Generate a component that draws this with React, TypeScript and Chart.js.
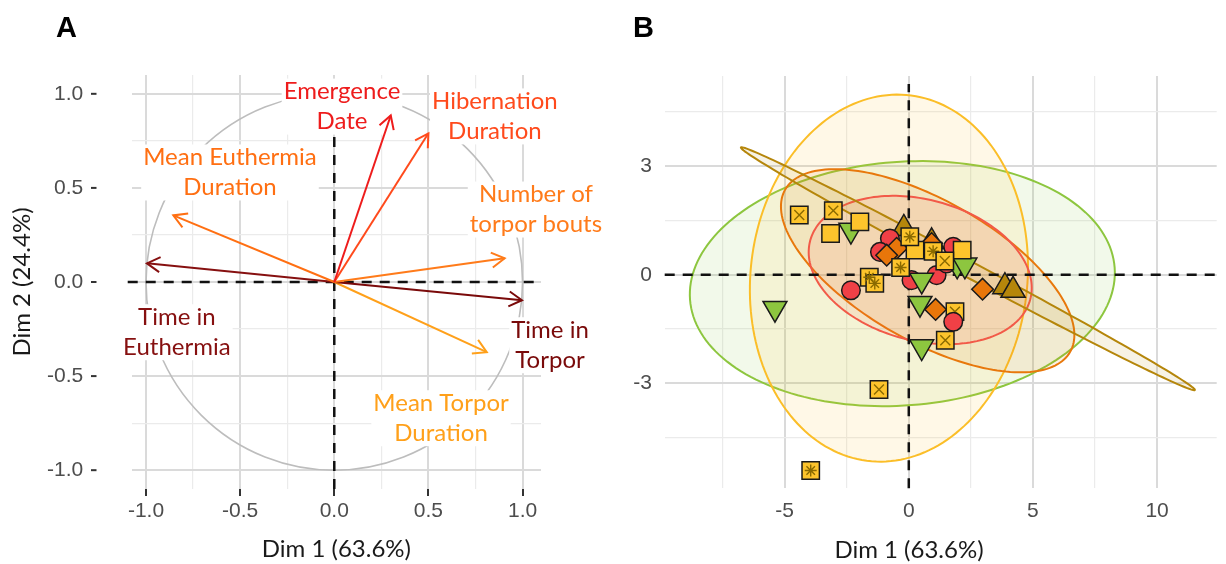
import React, { useEffect, useRef } from 'react';
import { Chart, registerables } from 'chart.js';
Chart.register(...registerables);

// ---------- Panel A: variable correlation circle ----------
const varLines: string[][] = [
  ['Emergence', 'Date'],
  ['Hibernation', 'Duration'],
  ['Number of', 'torpor bouts'],
  ['Time in', 'Torpor'],
  ['Mean Torpor', 'Duration'],
  ['Mean Euthermia', 'Duration'],
  ['Time in', 'Euthermia'],
];
const varX = [0.30, 0.50, 0.905, 0.997, 0.81, -0.855, -0.995];
const varY = [0.885, 0.79, 0.126, -0.097, -0.373, 0.354, 0.099];
const varColors = ['#EE1C1C', '#FF4A1C', '#FF7B1A', '#7A0A0A', '#FFA01A', '#FF6F12', '#861010'];
const labelX = [0.041, 0.853, 1.071, 1.146, 0.567, -0.554, -0.836];
const labelY = [0.932, 0.880, 0.385, -0.336, -0.724, 0.582, -0.267];

const aTicks = [-1, -0.75, -0.5, -0.25, 0, 0.25, 0.5, 0.75, 1];
const aTickLabels = ['-1.0', '', '-0.5', '', '0.0', '', '0.5', '', '1.0'];

// ---------- Panel B: individuals ----------
const bXTicks = [-7.5, -5, -2.5, 0, 2.5, 5, 7.5, 10];
const bXLabels = ['', '-5', '', '0', '', '5', '', '10'];
const bYTicks = [-4.5, -3, -1.5, 0, 1.5, 3, 4.5];
const bYLabels = ['', '-3', '', '0', '', '3', ''];

const redX = [-2.33, -0.76, -1.16, 1.79, 1.12, 0.11, 1.52, 1.79];
const redY = [-0.43, 1.0, 0.63, 0.77, -0.01, -0.15, 0.31, -1.30];
const orangeX = [-0.49, 0.92, -0.89, 2.97, 1.08];
const orangeY = [0.73, 0.86, 0.54, -0.40, -0.96];
const greenX = [-2.33, -5.39, 0.52, 0.45, 0.52, 1.95, 2.26];
const greenY = [1.23, -0.93, -0.15, -0.79, -1.99, 0.27, 0.27];
const goldX = [-0.20, 0.92, 3.87, 4.20];
const goldY = [1.28, 0.91, -0.33, -0.43];
const sqPlainX = [-3.15, -1.97, 0.25, 2.15];
const sqPlainY = [1.14, 1.46, 0.68, 0.68];
const sqCrossX = [-4.41, -3.04, 1.45, 1.47, 1.86, -1.20];
const sqCrossY = [1.65, 1.77, 0.38, -1.81, -1.02, -3.17];
const sqStarX = [-1.59, -1.37, -0.33, 0.04, 0.98, -3.95];
const sqStarY = [-0.07, -0.24, 0.20, 1.05, 0.65, -5.41];

// confidence ellipses: centre + two conjugate semi-diameters (data units)
const ellCX = [-0.26, -0.80, 0.76, 0.46, 2.38];
const ellCY = [-0.246, -0.094, 0.11, 0.13, 0.166];
const ellUX = [8.55, 5.60, 5.74, 4.43, 9.14];
const ellUY = [0.445, 0.387, -2.24, -0.815, -3.35];
const ellVX = [0.371, -0.08, -1.40, -0.74, -0.152];
const ellVY = [-3.356, 5.055, -1.69, -1.88, -0.195];
const ellColors = ['141,198,63', '251,190,40', '232,120,12', '242,90,72', '181,134,11'];

const RED = '#F04046';
const ORANGE = '#E8760A';
const YELLOW = '#FDC42C';
const GREEN = '#8DC63F';
const GOLD = '#B5860B';
const EDGE = '#1A1A1A';

const TICK_FONT = { family: '"Liberation Sans", Arial, sans-serif', size: 21 };
const TITLE_FAMILY = 'Lato, "Open Sans", sans-serif';
const TITLE_SIZE = 24;
const TICK_COLOR = '#4D4D4D';
const GRID_MAJOR = '#DADADA';
const GRID_MINOR = '#EBEBEB';

function grid(labels: string[], extra: any = {}) {
  return {
    color: (c: any) => (labels[c.index] ? GRID_MAJOR : GRID_MINOR),
    lineWidth: (c: any) => (labels[c.index] ? 2 : 1.2),
    ...extra,
  };
}

function drawPanelLetter(ctx: CanvasRenderingContext2D, t: string, x: number, y: number) {
  ctx.save();
  ctx.font = 'bold 29px "Liberation Sans", Arial, sans-serif';
  ctx.fillStyle = '#000';
  ctx.textAlign = 'center';
  ctx.textBaseline = 'middle';
  ctx.fillText(t, x, y);
  ctx.restore();
}

const aPlugin = {
  id: 'aDecor',
  beforeDatasetsDraw(chart: any) {
    const { ctx, chartArea: area } = chart;
    const xs = chart.scales.x, ys = chart.scales.y;
    const cx = xs.getPixelForValue(0), cy = ys.getPixelForValue(0);
    ctx.save();
    // unit circle
    ctx.beginPath();
    ctx.ellipse(cx, cy, xs.getPixelForValue(1) - cx, cy - ys.getPixelForValue(1), 0, 0, Math.PI * 2);
    ctx.strokeStyle = '#BDBDBD';
    ctx.lineWidth = 1.6;
    ctx.stroke();
    // dashed reference lines
    ctx.setLineDash([10, 8]);
    ctx.strokeStyle = '#111';
    ctx.lineWidth = 2.5;
    ctx.beginPath();
    ctx.moveTo(area.left - 4, cy);
    ctx.lineTo(area.right, cy);
    ctx.moveTo(cx, area.bottom);
    ctx.lineTo(cx, area.top);
    ctx.stroke();
    ctx.setLineDash([]);
    // labels with white boxes
    ctx.font = `${TITLE_SIZE}px ${TITLE_FAMILY}`;
    ctx.textAlign = 'center';
    ctx.textBaseline = 'middle';
    varLines.forEach((lines, i) => {
      const px = xs.getPixelForValue(labelX[i]);
      const py = ys.getPixelForValue(labelY[i]);
      const w = Math.max(...lines.map((l) => ctx.measureText(l).width));
      ctx.fillStyle = '#fff';
      ctx.fillRect(px - w / 2 - 2, py - 28, w + 4, 56);
      ctx.fillStyle = varColors[i];
      ctx.fillText(lines[0], px, py - 15);
      ctx.fillText(lines[1], px, py + 15);
    });
    ctx.restore();
  },
  afterDatasetsDraw(chart: any) {
    const { ctx } = chart;
    ctx.save();
    chart.data.datasets.forEach((ds: any, i: number) => {
      const meta = chart.getDatasetMeta(i);
      const p0 = meta.data[0], p1 = meta.data[1];
      const ang = Math.atan2(p1.y - p0.y, p1.x - p0.x);
      const L = 15, a = Math.PI / 6;
      ctx.beginPath();
      ctx.moveTo(p1.x - L * Math.cos(ang - a), p1.y - L * Math.sin(ang - a));
      ctx.lineTo(p1.x, p1.y);
      ctx.lineTo(p1.x - L * Math.cos(ang + a), p1.y - L * Math.sin(ang + a));
      ctx.strokeStyle = ds.borderColor;
      ctx.lineWidth = 2;
      ctx.lineJoin = 'miter';
      ctx.stroke();
    });
    // y-axis tick marks
    const ys = chart.scales.y;
    ctx.strokeStyle = '#333';
    ctx.lineWidth = 2;
    aTicks.forEach((v, i) => {
      if (!aTickLabels[i]) return;
      const y = ys.getPixelForValue(v);
      ctx.beginPath();
      ctx.moveTo(91, y);
      ctx.lineTo(96.5, y);
      ctx.stroke();
    });
    ctx.restore();
  },
  afterDraw(chart: any) {
    drawPanelLetter(chart.ctx, 'A', 66.5, 29);
  },
};

const bPlugin = {
  id: 'bDecor',
  beforeDatasetsDraw(chart: any) {
    const { ctx, chartArea: area } = chart;
    const xs = chart.scales.x, ys = chart.scales.y;
    ctx.save();
    ellCX.forEach((c, k) => {
      ctx.beginPath();
      for (let s = 0; s <= 180; s++) {
        const t = (s / 180) * Math.PI * 2;
        const dx = c + ellUX[k] * Math.cos(t) + ellVX[k] * Math.sin(t);
        const dy = ellCY[k] + ellUY[k] * Math.cos(t) + ellVY[k] * Math.sin(t);
        const px = xs.getPixelForValue(dx), py = ys.getPixelForValue(dy);
        if (s === 0) ctx.moveTo(px, py); else ctx.lineTo(px, py);
      }
      ctx.closePath();
      ctx.fillStyle = `rgba(${ellColors[k]},0.11)`;
      ctx.fill();
      ctx.strokeStyle = `rgb(${ellColors[k]})`;
      ctx.lineWidth = 2;
      ctx.stroke();
    });
    const cx = xs.getPixelForValue(0), cy = ys.getPixelForValue(0);
    ctx.setLineDash([10, 8]);
    ctx.strokeStyle = '#111';
    ctx.lineWidth = 2.5;
    ctx.beginPath();
    ctx.moveTo(area.left, cy);
    ctx.lineTo(area.right, cy);
    ctx.moveTo(cx, area.bottom);
    ctx.lineTo(cx, area.top + 8);
    ctx.stroke();
    ctx.restore();
  },
  afterDraw(chart: any) {
    const { ctx } = chart;
    drawPanelLetter(ctx, 'B', 33.5, 29);
    ctx.save();
    ctx.font = `${TITLE_SIZE}px ${TITLE_FAMILY}`;
    ctx.fillStyle = '#1A1A1A';
    ctx.textAlign = 'center';
    ctx.textBaseline = 'middle';
    ctx.fillText('Dim 1 (63.6%)', 299, 550);
    ctx.restore();
  },
};

const pts = (xs: number[], ys: number[]) => xs.map((x, i) => ({ x, y: ys[i] }));

function marker(data: any[], style: string, r: number, bg: string, extra: any = {}) {
  return {
    data,
    pointStyle: style,
    pointRadius: r,
    pointHoverRadius: r,
    pointBackgroundColor: bg,
    pointBorderColor: EDGE,
    pointBorderWidth: 1.5,
    showLine: false,
    ...extra,
  };
}

function makeA(): any {
  return {
    type: 'scatter',
    data: {
      datasets: varX.map((vx, i) => ({
        data: [{ x: 0, y: 0 }, { x: vx, y: varY[i] }],
        showLine: true,
        borderColor: varColors[i],
        borderWidth: 2,
        pointRadius: 0,
        pointHoverRadius: 0,
        fill: false,
      })),
    },
    options: {
      responsive: false,
      animation: false,
      devicePixelRatio: 1,
      events: [],
      layout: { padding: { left: 0, top: 75, right: 69, bottom: 0 }, autoPadding: false },
      plugins: { legend: { display: false }, tooltip: { enabled: false } },
      scales: {
        x: {
          type: 'linear', min: -1.076, max: 1.098,
          afterBuildTicks: (s: any) => { s.ticks = aTicks.map((v) => ({ value: v })); },
          afterFit: (s: any) => { s.height = 75; },
          ticks: { callback: (_v: any, i: number) => aTickLabels[i], font: TICK_FONT, color: TICK_COLOR, padding: 3, maxRotation: 0, autoSkip: false },
          grid: grid(aTickLabels, { drawTicks: true, tickLength: 7, tickWidth: 2, tickColor: (c: any) => (aTickLabels[c.index] ? '#333' : 'rgba(0,0,0,0)') }),
          border: { display: false },
          title: { display: true, text: 'Dim 1 (63.6%)', font: { family: TITLE_FAMILY, size: TITLE_SIZE }, color: '#1A1A1A', padding: { top: 0, bottom: 0 } },
        },
        y: {
          type: 'linear', min: -1.1, max: 1.1,
          afterBuildTicks: (s: any) => { s.ticks = aTicks.map((v) => ({ value: v })); },
          afterFit: (s: any) => { s.width = 131.7; },
          ticks: { callback: (_v: any, i: number) => aTickLabels[i], font: TICK_FONT, color: TICK_COLOR, padding: 48.4, autoSkip: false },
          grid: grid(aTickLabels, { drawTicks: false }),
          border: { display: false },
          title: { display: true, text: 'Dim 2 (24.4%)', font: { family: TITLE_FAMILY, size: TITLE_SIZE }, color: '#1A1A1A', padding: { top: 7.5, bottom: 0 } },
        },
      },
    },
    plugins: [aPlugin],
  };
}

function makeB(): any {
  const n = redX.length;
  // bottom-to-top drawing order
  const layers = [
    marker(pts(goldX, goldY), 'triangle', 14, GOLD),
    marker(pts(redX.slice(0, n - 1), redY.slice(0, n - 1)), 'circle', 9.3, RED),
    marker(pts(greenX, greenY), 'triangle', 13.8, GREEN, { pointRotation: 180 }),
    marker(pts(orangeX, orangeY), 'rectRot', 10.8, ORANGE),
    marker(pts(sqPlainX, sqPlainY), 'rect', 12.3, YELLOW),
    marker(pts(sqStarX, sqStarY), 'rect', 12.3, YELLOW),
    { ...marker(pts(sqStarX, sqStarY), 'star', 6, 'rgba(0,0,0,0)'), pointBorderColor: '#8A6A00', pointBorderWidth: 1.4 },
    marker(pts(sqCrossX, sqCrossY), 'rect', 12.3, YELLOW),
    { ...marker(pts(sqCrossX, sqCrossY), 'crossRot', 7, 'rgba(0,0,0,0)'), pointBorderColor: '#8A6A00', pointBorderWidth: 1.4 },
    marker(pts(redX.slice(n - 1), redY.slice(n - 1)), 'circle', 9.3, RED),
  ];
  return {
    type: 'scatter',
    data: { datasets: layers.reverse() },
    options: {
      responsive: false,
      animation: false,
      devicePixelRatio: 1,
      events: [],
      layout: { padding: { left: 0, top: 76, right: 9.3, bottom: 0 }, autoPadding: false },
      plugins: { legend: { display: false }, tooltip: { enabled: false } },
      scales: {
        x: {
          type: 'linear', min: -9.83, max: 12.4,
          afterBuildTicks: (s: any) => { s.ticks = bXTicks.map((v) => ({ value: v })); },
          afterFit: (s: any) => { s.height = 75.7; },
          ticks: { callback: (_v: any, i: number) => bXLabels[i], font: TICK_FONT, color: TICK_COLOR, padding: 10, maxRotation: 0, autoSkip: false },
          grid: grid(bXLabels, { drawTicks: false }),
          border: { display: false },
        },
        y: {
          type: 'linear', min: -5.9, max: 5.49,
          afterBuildTicks: (s: any) => { s.ticks = bYTicks.map((v) => ({ value: v })); },
          afterFit: (s: any) => { s.width = 54.7; },
          ticks: { callback: (_v: any, i: number) => bYLabels[i], font: TICK_FONT, color: TICK_COLOR, padding: 12.7, autoSkip: false },
          grid: grid(bYLabels, { drawTicks: false }),
          border: { display: false },
        },
      },
    },
    plugins: [bPlugin],
  };
}

export default function App() {
  const aRef = useRef<HTMLCanvasElement>(null);
  const bRef = useRef<HTMLCanvasElement>(null);
  useEffect(() => {
    const ca = new Chart(aRef.current as HTMLCanvasElement, makeA());
    const cb = new Chart(bRef.current as HTMLCanvasElement, makeB());
    return () => {
      ca.destroy();
      cb.destroy();
    };
  }, []);
  return (
    <div style={{ position: 'absolute', left: 0, top: 0, width: 1226, height: 564, background: '#fff', overflow: 'hidden' }}>
      <canvas ref={aRef} width={610} height={564} style={{ position: 'absolute', left: 0, top: 0, width: 610, height: 564 }} />
      <canvas ref={bRef} width={616} height={564} style={{ position: 'absolute', left: 610, top: 0, width: 616, height: 564 }} />
    </div>
  );
}
